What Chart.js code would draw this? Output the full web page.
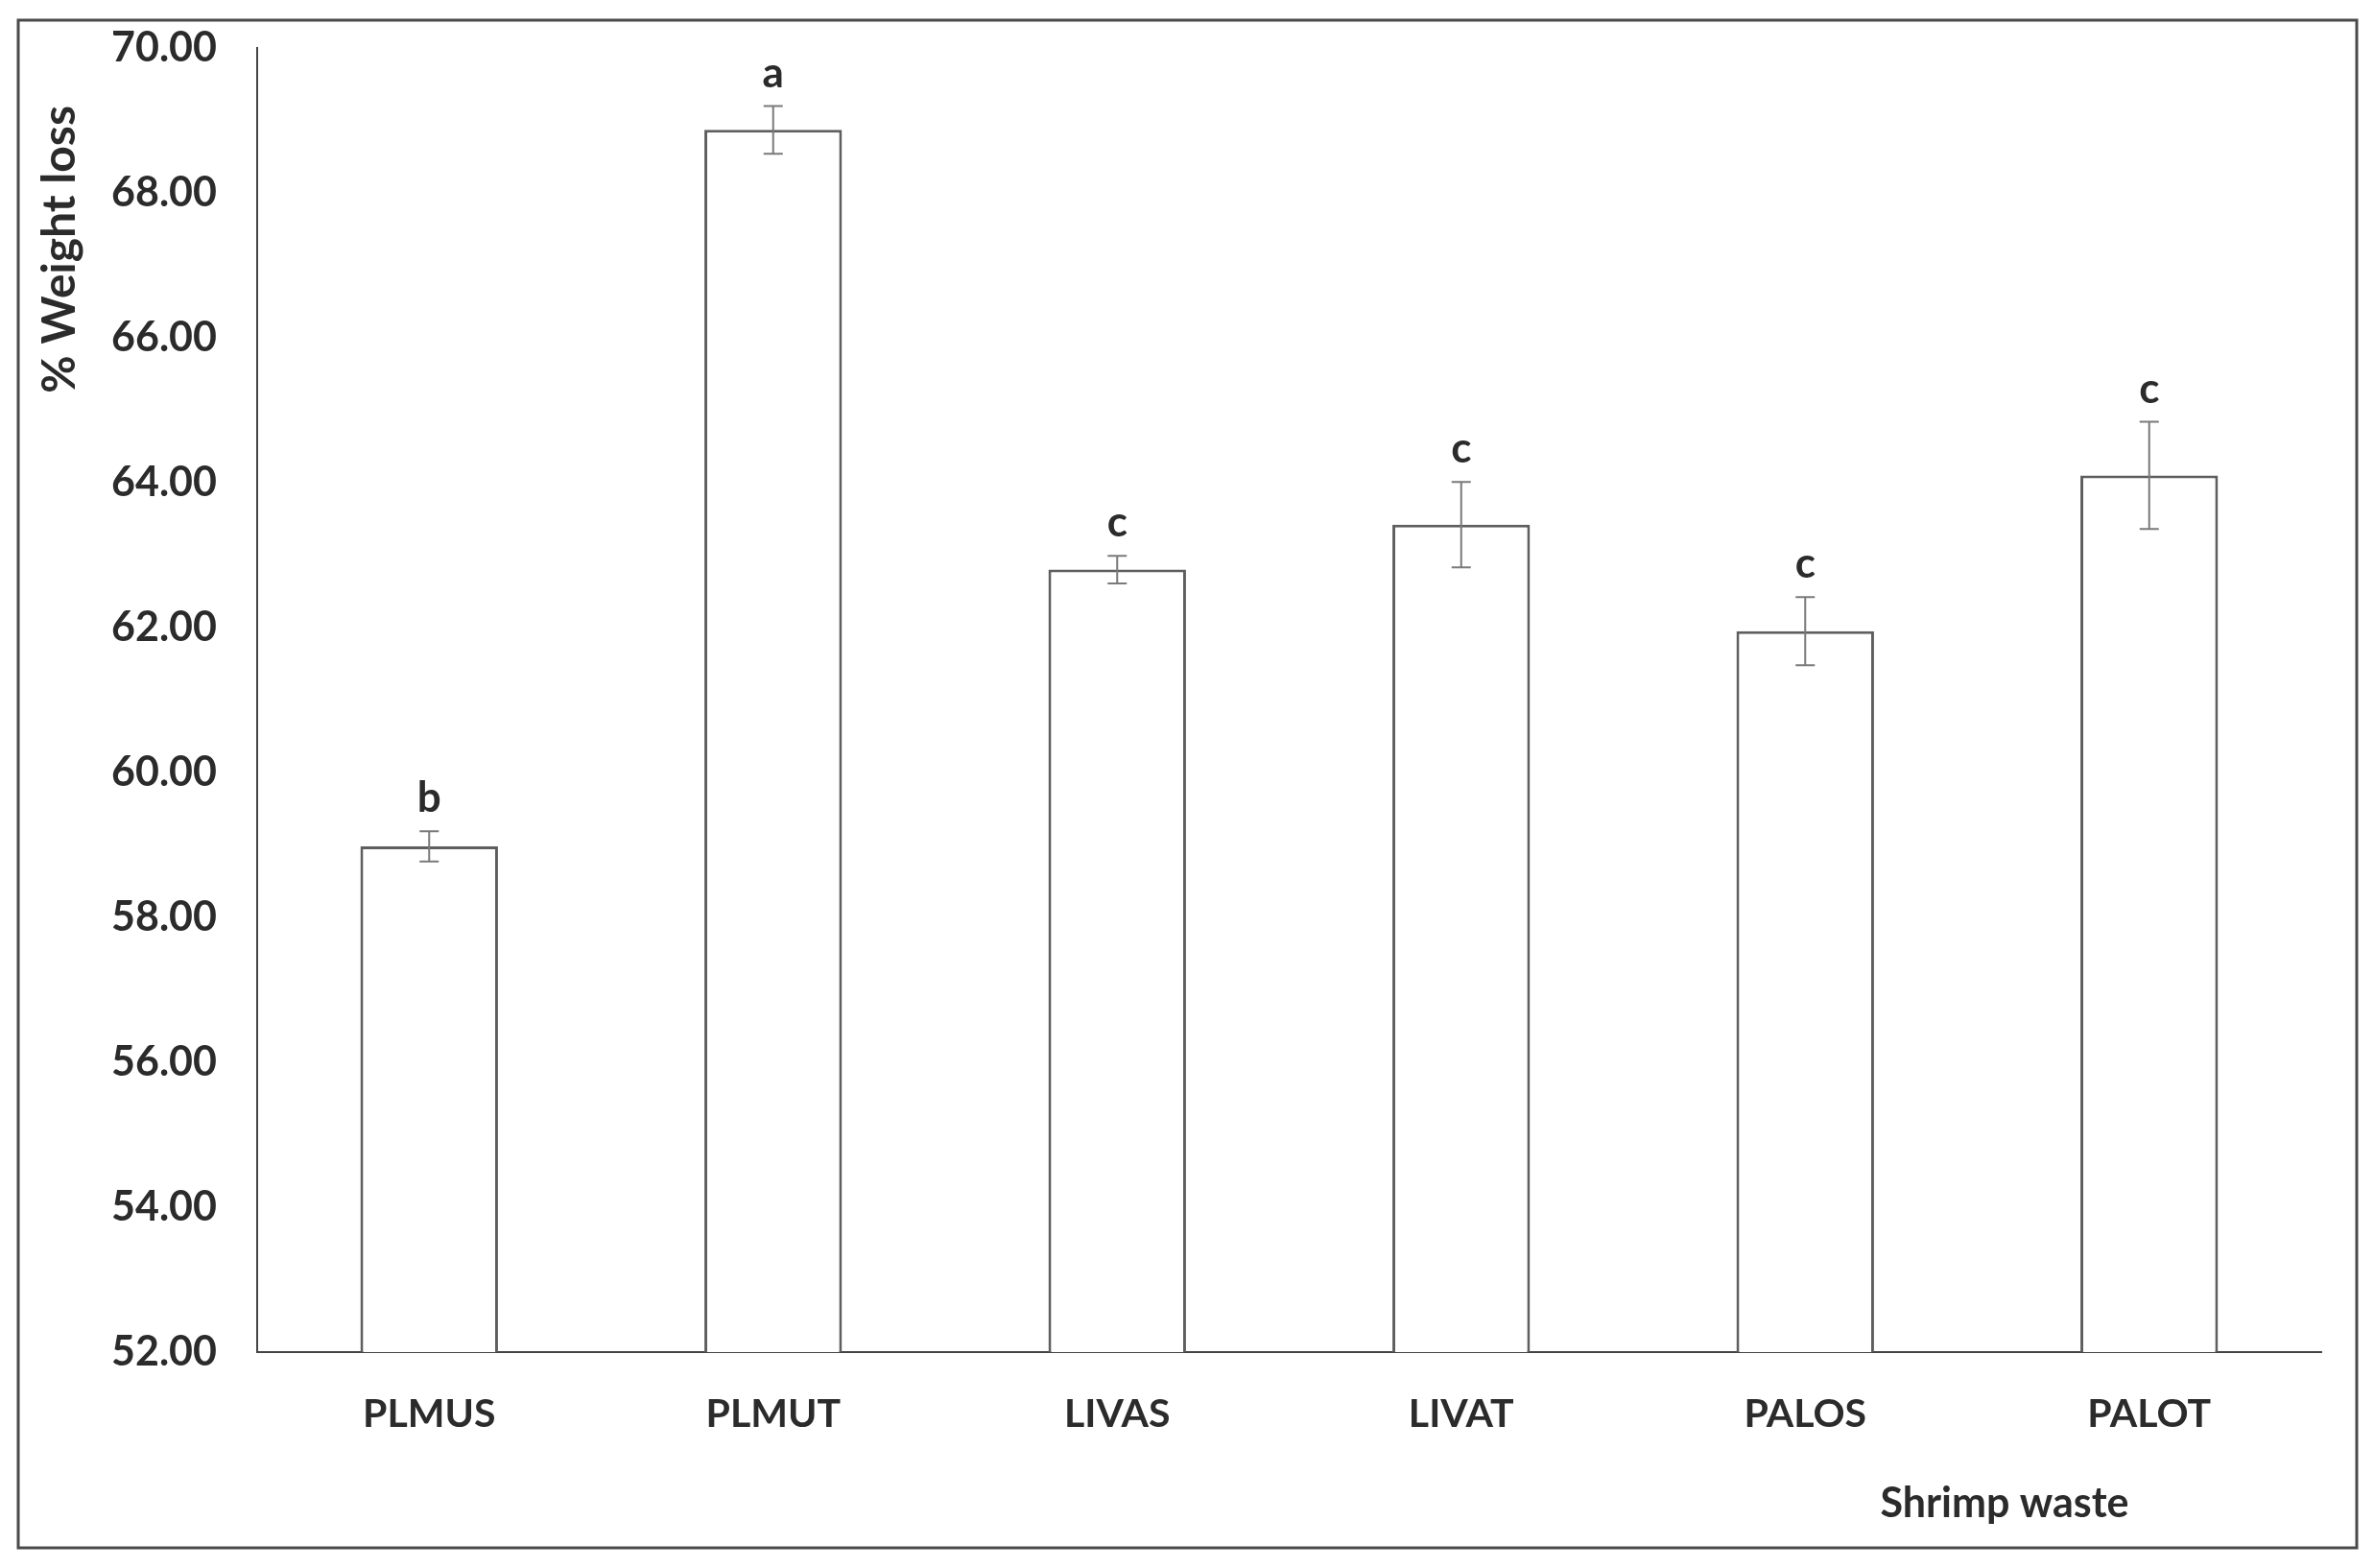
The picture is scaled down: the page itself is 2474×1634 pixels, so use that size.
<!DOCTYPE html>
<html>
<head>
<meta charset="utf-8">
<title>% Weight loss - Shrimp waste</title>
<script src="https://cdn.jsdelivr.net/npm/chart.js@4.4.1/dist/chart.umd.min.js"></script>
<style>
  html, body { margin: 0; padding: 0; background: #fff; }
  canvas { display: block; }
</style>
</head>
<body>
<canvas id="chart" width="2474" height="1634"></canvas>
<script>
// Datos
const categories = ['PLMUS', 'PLMUT', 'LIVAS', 'LIVAT', 'PALOS', 'PALOT'];
const weightLoss = [58.98, 68.87, 62.80, 63.42, 61.95, 64.10];
const errors = [0.21, 0.33, 0.19, 0.59, 0.47, 0.74];
const letters = ['b', 'a', 'c', 'c', 'c', 'c'];
const yTicks = [52, 54, 56, 58, 60, 62, 64, 66, 68, 70];

const FONT = 'Lato, "Open Sans", sans-serif';
const TEXT = '#2b2b2b';

// Marco exterior
const framePlugin = {
    id: 'frame',
    beforeDraw(chart) {
        const ctx = chart.ctx;
        ctx.save();
        ctx.fillStyle = '#fff';
        ctx.fillRect(0, 0, chart.width, chart.height);
        ctx.strokeStyle = '#4a4a4a';
        ctx.lineWidth = 3;
        ctx.strokeRect(19, 21, chart.width - 37, chart.height - 42);
        ctx.restore();
    }
};

// Barras de error + letras de significancia
const errorBarPlugin = {
    id: 'errorBars',
    afterDatasetsDraw(chart) {
        const ctx = chart.ctx;
        const x = chart.scales.x;
        const y = chart.scales.y;
        ctx.save();
        ctx.strokeStyle = '#7a7a7a';
        ctx.lineWidth = 2;
        weightLoss.forEach((v, i) => {
            const cx = x.getPixelForValue(i);
            const top = y.getPixelForValue(v + errors[i]);
            const bot = y.getPixelForValue(v - errors[i]);
            ctx.beginPath();
            ctx.moveTo(cx, top); ctx.lineTo(cx, bot);
            ctx.moveTo(cx - 10, top); ctx.lineTo(cx + 10, top);
            ctx.moveTo(cx - 10, bot); ctx.lineTo(cx + 10, bot);
            ctx.stroke();

            ctx.fillStyle = TEXT;
            ctx.font = 'bold 44px ' + FONT;
            ctx.textAlign = 'center';
            ctx.textBaseline = 'middle';
            ctx.fillText(letters[i], cx, top - 34);
        });
        ctx.restore();
    }
};

// Títulos de ejes
const axisTitlePlugin = {
    id: 'axisTitles',
    afterDraw(chart) {
        const ctx = chart.ctx;
        const area = chart.chartArea;
        ctx.save();
        ctx.fillStyle = TEXT;
        ctx.textBaseline = 'middle';

        ctx.save();
        ctx.font = 'bold 48px ' + FONT;
        ctx.translate(63, area.top + 60);
        ctx.rotate(-Math.PI / 2);
        ctx.textAlign = 'right';
        ctx.fillText('% Weight loss', 0, 0);
        ctx.restore();

        ctx.font = 'bold 43px ' + FONT;
        ctx.textAlign = 'center';
        ctx.fillText('Shrimp waste', 2089, 1567);
        ctx.restore();
    }
};

new Chart(document.getElementById('chart'), {
    type: 'bar',
    data: {
        labels: categories,
        datasets: [{
            data: weightLoss,
            backgroundColor: '#ffffff',
            borderColor: '#5e5e5e',
            borderWidth: 3,
            borderSkipped: false,
            barPercentage: 0.4,
            categoryPercentage: 1
        }]
    },
    options: {
        responsive: false,
        animation: false,
        devicePixelRatio: 1,
        layout: { padding: { top: 50, right: 55, bottom: 0, left: 0 } },
        plugins: {
            legend: { display: false },
            tooltip: { enabled: false }
        },
        scales: {
            x: {
                grid: { display: false, drawTicks: false },
                border: { display: true, color: '#444', width: 2 },
                ticks: {
                    color: TEXT,
                    font: { family: FONT, size: 41, weight: 'bold' },
                    padding: 40
                },
                afterFit(scale) {
                    scale.height = 225;
                    scale.paddingLeft = 0;
                    scale.paddingRight = 0;
                }
            },
            y: {
                min: 52,
                max: 70,
                afterBuildTicks(scale) {
                    scale.ticks = yTicks.map(v => ({ value: v }));
                },
                grid: { display: false, drawTicks: false },
                border: { display: true, color: '#444', width: 2 },
                ticks: {
                    color: TEXT,
                    font: { family: FONT, size: 43, weight: 'bold' },
                    padding: 42,
                    callback: v => Number(v).toFixed(2)
                },
                afterFit(scale) {
                    scale.width = 268;
                    scale.paddingTop = 0;
                    scale.paddingBottom = 0;
                }
            }
        }
    },
    plugins: [framePlugin, errorBarPlugin, axisTitlePlugin]
});
</script>
</body>
</html>
